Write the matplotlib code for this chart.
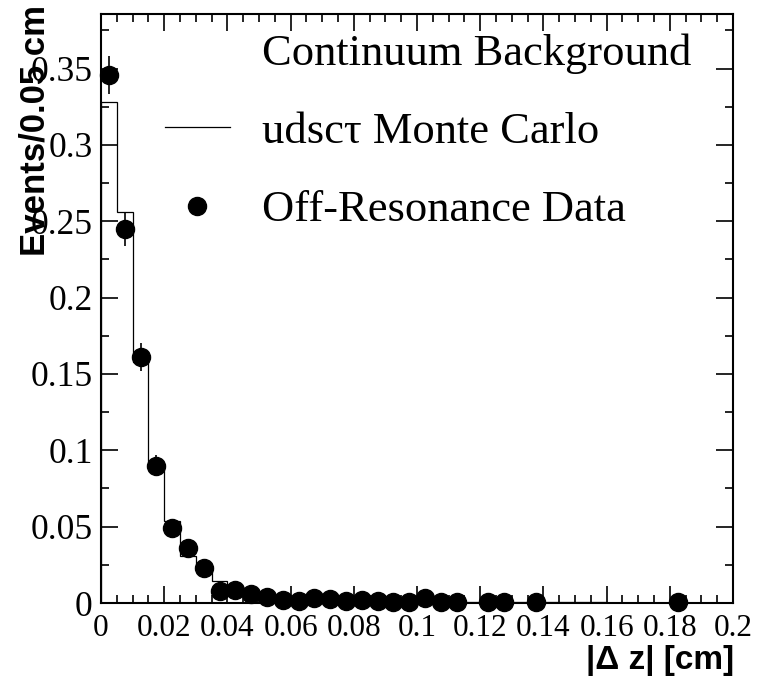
#!/usr/bin/env python3
import numpy as np
import matplotlib
matplotlib.use("Agg")
import matplotlib.pyplot as plt
from matplotlib.lines import Line2D
from matplotlib.ticker import MultipleLocator

# udsc-tau Monte Carlo histogram, bins of 0.005 cm from 0 to 0.2
mc_edges = np.arange(0, 0.2001, 0.005)
mc_values = [0.328, 0.256, 0.158, 0.092, 0.054, 0.031, 0.022, 0.0146, 0.009, 0.0065,
             0.005, 0.004, 0.0033, 0.0028, 0.0024, 0.002, 0.0018, 0.0015, 0.0013, 0.0012,
             0.001, 0.0009, 0.0008, 0.0008, 0.0007, 0.0006, 0.0006, 0.0005, 0.0005, 0.0004,
             0.0004, 0.0004, 0.0003, 0.0003, 0.0003, 0.0003, 0.0002, 0.0002, 0.0002, 0.0002]

# off-resonance data points (bin centres)
data_x = [0.0025, 0.0075, 0.0125, 0.0175, 0.0225, 0.0275, 0.0325, 0.0375, 0.0425, 0.0475,
          0.0525, 0.0575, 0.0625, 0.0675, 0.0725, 0.0775, 0.0825, 0.0875, 0.0925, 0.0975,
          0.1025, 0.1075, 0.1125, 0.1225, 0.1275, 0.1375, 0.1825]
data_y = [0.346, 0.245, 0.161, 0.090, 0.049, 0.036, 0.023, 0.0078, 0.0088, 0.0058,
          0.0042, 0.0021, 0.0016, 0.0030, 0.0025, 0.0010, 0.0020, 0.0010, 0.0009, 0.0009,
          0.0036, 0.0004, 0.0004, 0.0004, 0.0004, 0.0006, 0.0004]
data_err = [0.0125, 0.011, 0.009, 0.0068, 0.005, 0.0043, 0.0035, 0.002, 0.0021, 0.0017,
            0.0014, 0.001, 0.0009, 0.0012, 0.0011, 0.0007, 0.001, 0.0007, 0.0007, 0.0007,
            0.0013, 0.0004, 0.0004, 0.0004, 0.0004, 0.0005, 0.0004]

SERIF = ["Liberation Serif", "DejaVu Serif"]
SANS = ["Liberation Sans", "DejaVu Sans"]

fig = plt.figure(figsize=(7.57, 6.86), dpi=100)
ax = fig.add_axes([101 / 757, 83 / 686, 632 / 757, 589 / 686])

ax.stairs(mc_values, mc_edges, color="black", linewidth=0.9)
ax.errorbar(data_x, data_y, yerr=data_err, fmt="o", color="black", markersize=13,
            elinewidth=1.2, capsize=0, clip_on=False, zorder=3)

ax.set_xlim(0, 0.2)
ax.set_ylim(0, 0.3857)
ax.xaxis.set_major_locator(MultipleLocator(0.02))
ax.xaxis.set_minor_locator(MultipleLocator(0.005))
ax.yaxis.set_major_locator(MultipleLocator(0.05))
ax.yaxis.set_minor_locator(MultipleLocator(0.025))
ax.xaxis.set_major_formatter(plt.FuncFormatter(lambda v, p: f"{v:g}"))
ax.yaxis.set_major_formatter(plt.FuncFormatter(lambda v, p: f"{v:g}"))

ax.tick_params(which="both", direction="in", top=True, right=True, width=1.2)
ax.tick_params(which="major", length=12)
ax.tick_params(which="minor", length=6)
ax.tick_params(axis="x", which="major", pad=8)
ax.tick_params(axis="y", which="major", pad=6)
for lab in ax.get_xticklabels():
    lab.set_family(SERIF)
    lab.set_fontsize(22.5)
for lab in ax.get_yticklabels():
    lab.set_family(SERIF)
    lab.set_fontsize(25.5)
for sp in ax.spines.values():
    sp.set_linewidth(1.5)

fig.text(35 / 757, 1 - 5 / 686, "Events/0.05 cm", rotation=90, ha="center", va="top",
         fontsize=25, fontweight="bold", family=SANS)
fig.text(734 / 757, 1 - 660 / 686, "|\u0394 z| [cm]", ha="right", va="center",
         fontsize=24, fontweight="bold", family=SANS)

handles = [Line2D([], [], linestyle="none"),
           Line2D([], [], color="black", linewidth=0.9),
           Line2D([], [], color="black", marker="o", linestyle="none", markersize=13)]
labels = ["Continuum Background", "udsc\u03c4 Monte Carlo", "Off-Resonance Data"]
leg = fig.legend(handles, labels, loc="upper left", bbox_to_anchor=(165 / 757, 1 - 33 / 686),
                 frameon=False, borderpad=0, borderaxespad=0, handlelength=1.46,
                 handletextpad=0.72, labelspacing=0.86, prop={"family": SERIF, "size": 32})

fig.savefig("out.png", dpi=100)
